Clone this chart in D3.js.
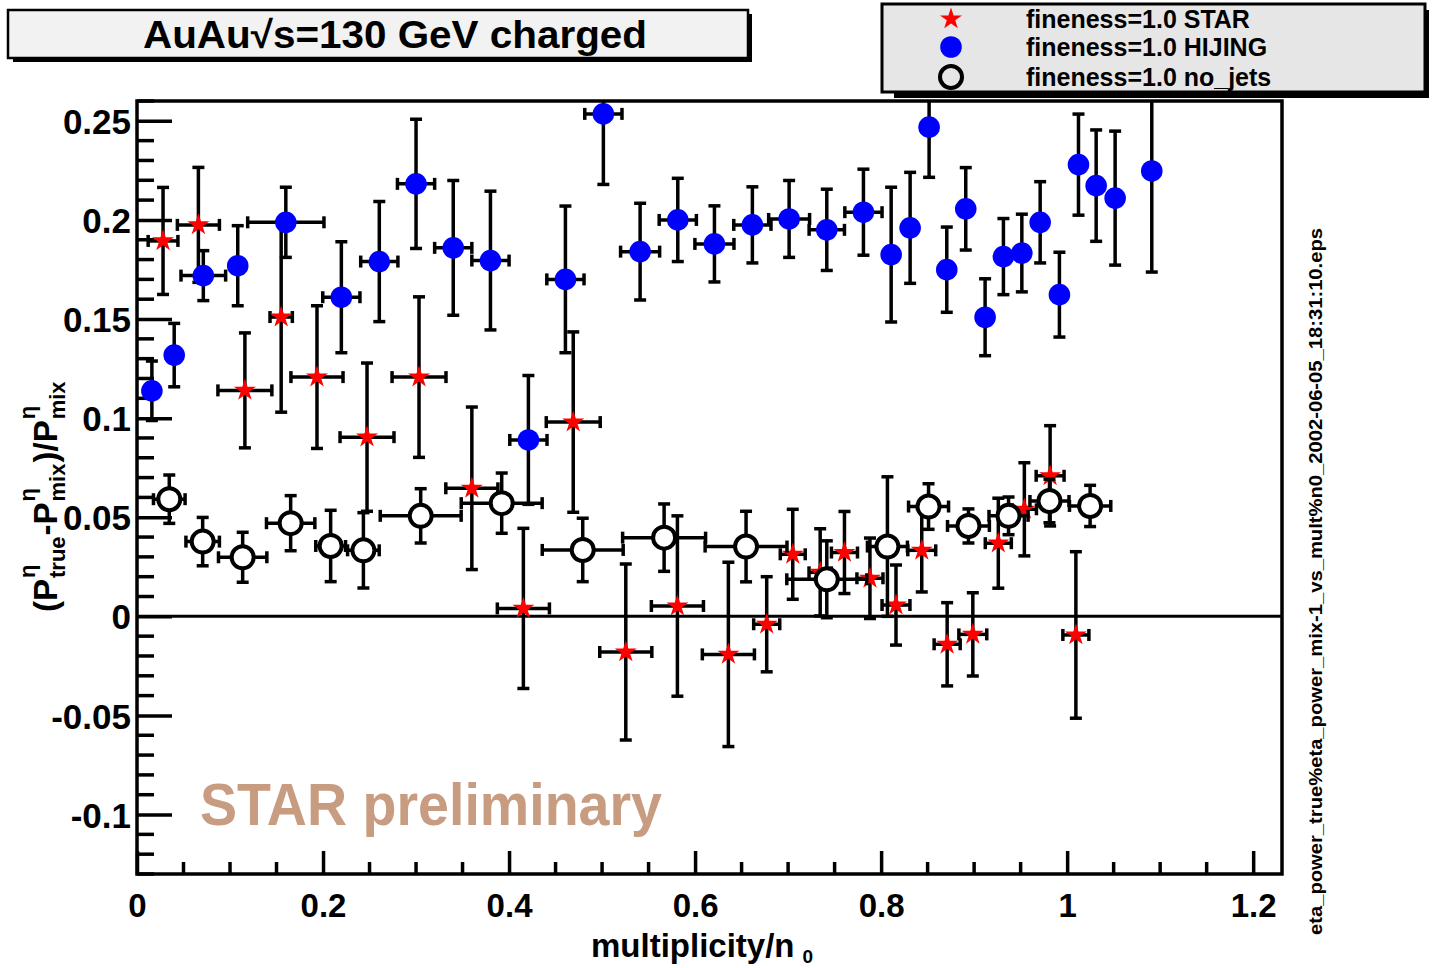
<!DOCTYPE html>
<html><head><meta charset="utf-8">
<script src="https://cdn.jsdelivr.net/npm/d3@7"></script>
<style>
body{margin:0;background:#fff}
svg{display:block}
text{font-family:"Liberation Sans",Arial,Helvetica,sans-serif;font-weight:bold}
</style>
</head><body>
<svg id="c" width="1433" height="968"></svg>
<script>
// ---------- data ----------
const starX    = [0.028,0.066,0.116,0.155,0.1935,0.2473,0.3032,0.360,0.4154,0.469,0.5255,0.581,0.6358,0.677,0.705,0.7345,0.7606,0.788,0.816,0.8437,0.871,0.8986,0.926,0.954,0.9817,1.0094];
const starY    = [0.1894,0.1975,0.114,0.151,0.1207,0.0904,0.1207,0.0646,0.004,0.098,-0.018,0.0052,-0.0192,-0.004,0.0313,0.0222,0.0322,0.0192,0.0057,0.0333,-0.0141,-0.0091,0.0369,0.054,0.0709,-0.0094];
const starXErr = [0.016,0.0226,0.029,0.012,0.028,0.029,0.029,0.028,0.028,0.029,0.028,0.028,0.028,0.014,0.0134,0.012,0.014,0.014,0.015,0.015,0.014,0.015,0.014,0.013,0.015,0.014];
const starYErr = [0.027,0.029,0.029,0.048,0.036,0.0374,0.0405,0.041,0.0404,0.0455,0.0444,0.0455,0.0465,0.024,0.0227,0.022,0.0207,0.0203,0.0202,0.021,0.021,0.021,0.0227,0.0235,0.0253,0.042];

const hijX    = [0.016,0.040,0.0713,0.1083,0.160,0.2197,0.2605,0.300,0.340,0.380,0.4208,0.4606,0.5014,0.5409,0.5814,0.6208,0.6616,0.7011,0.7416,0.781,0.8108,0.8312,0.8516,0.8706,0.891,0.9118,0.9315,0.9513,0.971,0.9917,1.0122,1.0312,1.0516,1.091];
const hijY    = [0.1138,0.1318,0.1719,0.1769,0.1988,0.161,0.179,0.2182,0.1859,0.1795,0.089,0.170,0.2535,0.184,0.200,0.1879,0.1975,0.2005,0.195,0.2039,0.1825,0.196,0.2468,0.1749,0.2056,0.1509,0.1815,0.1833,0.1988,0.1623,0.2279,0.2173,0.211,0.2247];
const hijXErr = [0,0,0.024,0,0.041,0.02,0.02,0.02,0.02,0.02,0.02,0.02,0.02,0.021,0.02,0.021,0.02,0.022,0.019,0.02,0,0,0,0,0,0,0,0,0,0,0,0,0,0];
const hijYErr = [0.015,0.016,0.0126,0.0202,0.0177,0.028,0.0303,0.0326,0.034,0.035,0.0325,0.037,0.0356,0.0244,0.021,0.0192,0.0192,0.0194,0.0205,0.0217,0.034,0.028,0.0253,0.0215,0.0208,0.0194,0.0192,0.0196,0.0205,0.0214,0.0255,0.0281,0.0338,0.051];

const nojX    = [0.0347,0.0706,0.1136,0.1652,0.2082,0.2434,0.305,0.3921,0.4792,0.5667,0.6548,0.7416,0.8068,0.851,0.8939,0.937,0.981,1.0247];
const nojY    = [0.0591,0.0377,0.0298,0.047,0.0355,0.0333,0.0507,0.0571,0.0335,0.0397,0.0352,0.0187,0.0352,0.0554,0.0456,0.0507,0.0582,0.0557];
const nojXErr = [0.017,0.018,0.026,0.026,0.016,0.017,0.0435,0.0435,0.0435,0.0446,0.044,0.043,0.0215,0.0215,0.0225,0.021,0.021,0.0222];
const nojYErr = [0.0122,0.0122,0.0126,0.0139,0.018,0.019,0.0137,0.0152,0.016,0.017,0.0178,0.0194,0.0352,0.0115,0.0086,0.0095,0.011,0.0104];

const xTicks = [0,0.2,0.4,0.6,0.8,1.0,1.2];
const xTickLabels = ["0","0.2","0.4","0.6","0.8","1","1.2"];
const yTicks = [-0.1,-0.05,0,0.05,0.1,0.15,0.2,0.25];
const yTickLabels = ["-0.1","-0.05","0","0.05","0.1","0.15","0.2","0.25"];
const legendLabels = ["fineness=1.0 STAR","fineness=1.0 HIJING","fineness=1.0 no_jets"];
const titleText = "AuAu\u221As=130 GeV charged";
const fileText = "eta_power_true%eta_power_mix-1_vs_mult%n0_2002-06-05_18:31:10.eps";

// ---------- layout ----------
const svg = d3.select("#c");
const L=137, R=1282, T=101, B=874;
const x = d3.scaleLinear().domain([0,1.231]).range([L,R]);
const y = d3.scaleLinear().domain([-0.13,0.26]).range([B,T]);
const LW = 3.5;

svg.append("rect").attr("width",1433).attr("height",968).attr("fill","#fff");

svg.append("clipPath").attr("id","plotclip").append("rect")
  .attr("x",L).attr("y",T).attr("width",R-L).attr("height",B-T);

// axes ticks
const yAxis = d3.axisLeft(y).tickValues(yTicks).tickFormat((d,i)=>yTickLabels[i]).tickSize(-35).tickPadding(6);
const gy = svg.append("g").attr("transform",`translate(${L},0)`).call(yAxis);
gy.select(".domain").remove();
gy.selectAll(".tick line").attr("stroke","#000").attr("stroke-width",LW);
gy.selectAll(".tick text").attr("font-size",35).attr("fill","#000").attr("font-family",null).attr("dy","0.36em");

const yMinor = d3.range(-13,27).map(v=>v/100).filter(v=>Math.abs(Math.round(v*100)%5)!==0 && v>=-0.13 && v<=0.26);
svg.append("g").selectAll("line").data(yMinor).join("line")
  .attr("x1",L).attr("x2",L+17).attr("y1",d=>y(d)).attr("y2",d=>y(d))
  .attr("stroke","#000").attr("stroke-width",LW);

const xAxis = d3.axisBottom(x).tickValues(xTicks).tickFormat((d,i)=>xTickLabels[i]).tickSize(-23).tickPadding(20);
const gx = svg.append("g").attr("transform",`translate(0,${B})`).call(xAxis);
gx.select(".domain").remove();
gx.selectAll(".tick line").attr("stroke","#000").attr("stroke-width",LW);
gx.selectAll(".tick text").attr("font-size",33).attr("fill","#000").attr("font-family",null);

const xMinor = d3.range(0,25).map(v=>v*0.05).filter((v,i)=>i%4!==0 && v<=1.231);
svg.append("g").selectAll("line").data(xMinor).join("line")
  .attr("x1",d=>x(d)).attr("x2",d=>x(d)).attr("y1",B).attr("y2",B-12)
  .attr("stroke","#000").attr("stroke-width",LW);

// zero line
svg.append("line").attr("x1",L).attr("x2",R).attr("y1",y(0)).attr("y2",y(0))
  .attr("stroke","#000").attr("stroke-width",3);

// frame
svg.append("rect").attr("x",L).attr("y",T).attr("width",R-L).attr("height",B-T)
  .attr("fill","none").attr("stroke","#000").attr("stroke-width",LW);

// STAR preliminary
svg.append("text").attr("x",200).attr("y",825).attr("font-size",60)
  .attr("fill","#c89c80").attr("textLength",462).attr("lengthAdjust","spacingAndGlyphs")
  .text("STAR preliminary");

// ---------- series ----------
const starSym = d3.symbol(d3.symbolStar, 150)();
const circSym = d3.symbol(d3.symbolCircle, Math.PI*10.8*10.8)();

function drawErrors(g, xs, ys, xe, ye){
  const cg = g.append("g").attr("clip-path","url(#plotclip)")
     .attr("stroke","#000").attr("stroke-width",LW);
  xs.forEach((xv,i)=>{
    const cx=x(xv), cy=y(ys[i]);
    if(ye[i]>0){
      const y1=y(ys[i]+ye[i]), y2=y(ys[i]-ye[i]);
      cg.append("line").attr("x1",cx).attr("x2",cx).attr("y1",y1).attr("y2",y2);
      cg.append("line").attr("x1",cx-6).attr("x2",cx+6).attr("y1",y1).attr("y2",y1);
      cg.append("line").attr("x1",cx-6).attr("x2",cx+6).attr("y1",y2).attr("y2",y2);
    }
    if(xe[i]>0){
      const x1=x(xv-xe[i]), x2=x(xv+xe[i]);
      cg.append("line").attr("x1",x1).attr("x2",x2).attr("y1",cy).attr("y2",cy);
      cg.append("line").attr("x1",x1).attr("x2",x1).attr("y1",cy-6).attr("y2",cy+6);
      cg.append("line").attr("x1",x2).attr("x2",x2).attr("y1",cy-6).attr("y2",cy+6);
    }
  });
}

const gS = svg.append("g");
drawErrors(gS, starX, starY, starXErr, starYErr);
gS.append("g").selectAll("path").data(starX).join("path")
  .attr("d",starSym).attr("fill","#ff0000")
  .attr("transform",(d,i)=>`translate(${x(d)},${y(starY[i])})`);

const gH = svg.append("g");
drawErrors(gH, hijX, hijY, hijXErr, hijYErr);
gH.append("g").selectAll("path").data(hijX).join("path")
  .attr("d",circSym).attr("fill","#0000ff")
  .attr("transform",(d,i)=>`translate(${x(d)},${y(hijY[i])})`);

const gN = svg.append("g");
drawErrors(gN, nojX, nojY, nojXErr, nojYErr);
gN.append("g").selectAll("circle").data(nojX).join("circle")
  .attr("cx",d=>x(d)).attr("cy",(d,i)=>y(nojY[i])).attr("r",11)
  .attr("fill","#fff").attr("stroke","#000").attr("stroke-width",4);

// ---------- axis titles ----------
const xt = svg.append("text").attr("x",591).attr("y",957).attr("font-size",33).attr("fill","#000");
xt.append("tspan").text("multiplicity/n");
xt.append("tspan").attr("dx",8).attr("dy",6).attr("font-size",19).text("0");

const yg = svg.append("g").attr("transform","translate(57,612) rotate(-90)");
const pieces = [
  {t:"(P"},{sup:"\u03B7",sub:"true"},{t:"-P"},{sup:"\u03B7",sub:"mix"},{t:")/P"},{sup:"\u03B7",sub:"mix"}
];
let cur = 0;
pieces.forEach(p=>{
  if(p.t){
    const el = yg.append("text").attr("x",cur).attr("y",0).attr("font-size",33).attr("fill","#000").text(p.t);
    cur += el.node().getComputedTextLength();
  } else {
    const a = yg.append("text").attr("x",cur+1).attr("y",-22).attr("font-size",22).attr("fill","#000").text(p.sup);
    const b = yg.append("text").attr("x",cur+1).attr("y",8).attr("font-size",22).attr("fill","#000").text(p.sub);
    cur += Math.max(a.node().getComputedTextLength(), b.node().getComputedTextLength()) + 2;
  }
});

svg.append("text").attr("transform","translate(1322,935) rotate(-90)")
  .attr("font-size",18).attr("fill","#000")
  .attr("textLength",707).attr("lengthAdjust","spacingAndGlyphs").text(fileText);

// ---------- title box ----------
svg.append("rect").attr("x",13).attr("y",14).attr("width",739).attr("height",48).attr("fill","#000");
svg.append("rect").attr("x",8).attr("y",10).attr("width",740).attr("height",48)
  .attr("fill","#f2f2f2").attr("stroke","#000").attr("stroke-width",2.5);
svg.append("text").attr("x",395).attr("y",48).attr("text-anchor","middle")
  .attr("font-size",38).attr("fill","#000")
  .attr("textLength",504).attr("lengthAdjust","spacingAndGlyphs").text(titleText);

// ---------- legend ----------
svg.append("rect").attr("x",894).attr("y",10).attr("width",535).attr("height",88).attr("fill","#000");
svg.append("rect").attr("x",882).attr("y",4).attr("width",543).attr("height",88)
  .attr("fill","#e6e6e6").attr("stroke","#000").attr("stroke-width",3);
const legY = [19,47,77];
svg.append("path").attr("d",starSym).attr("fill","#ff0000").attr("transform",`translate(951,${legY[0]})`);
svg.append("path").attr("d",circSym).attr("fill","#0000ff").attr("transform",`translate(951,${legY[1]})`);
svg.append("circle").attr("cx",951).attr("cy",legY[2]).attr("r",11).attr("fill","none").attr("stroke","#000").attr("stroke-width",4);
svg.append("g").selectAll("text").data(legendLabels).join("text")
  .attr("x",1026).attr("y",(d,i)=>legY[i]+9).attr("font-size",25).attr("fill","#000").text(d=>d);
</script>
</body></html>
